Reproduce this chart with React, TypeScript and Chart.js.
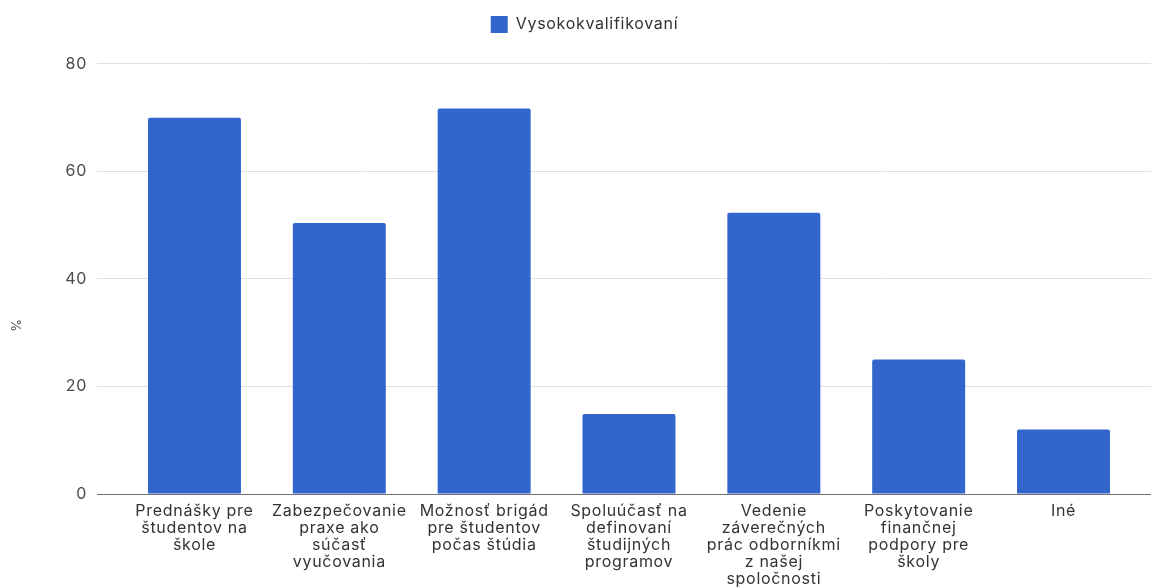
import React, { useEffect, useRef } from "react";
import { Chart, registerables } from "chart.js";

Chart.register(...registerables);

// Survey answers: share of respondents (%) choosing each form of cooperation
const categories: string[][] = [
  ["Prednášky pre", "študentov na", "škole"],
  ["Zabezpečovanie", "praxe ako", "súčasť", "vyučovania"],
  ["Možnosť brigád", "pre študentov", "počas štúdia"],
  ["Spoluúčasť na", "definovaní", "študijných", "programov"],
  ["Vedenie", "záverečných", "prác odborníkmi", "z našej", "spoločnosti"],
  ["Poskytovanie", "finančnej", "podpory pre", "školy"],
  ["Iné"],
];
const seriesName = "Vysokokvalifikovaní";
const values: number[] = [70, 50.4, 71.7, 14.9, 52.3, 25, 12];
const yTicks: number[] = [0, 20, 40, 60, 80];
const yTitle = "%";

const FONT = "Inter, 'Noto Sans', sans-serif";
const BAR_COLOR = "#3366cc";
const LETTER_SPACING = "0.7px";
// headroom above the top gridline so the plot starts below the legend
const Y_MAX = 83.9;
// trailing padding keeps the rotated axis title below the plot's middle
const Y_TITLE_TEXT = yTitle + " ".repeat(26);

// Slightly widened glyph spacing for every text drawn on the canvas
const spacingPlugin = {
  id: "letterSpacing",
  beforeUpdate(chart: any) {
    chart.ctx.letterSpacing = LETTER_SPACING;
  },
  beforeDraw(chart: any) {
    chart.ctx.letterSpacing = LETTER_SPACING;
  },
};

export default function App() {
  const ref = useRef<HTMLCanvasElement | null>(null);

  useEffect(() => {
    if (!ref.current) return;
    const points = values.map((v, i) => ({ x: i, y: v }));
    const chart = new Chart(ref.current, {
      type: "bar",
      data: {
        datasets: [
          {
            label: seriesName,
            data: points,
            backgroundColor: BAR_COLOR,
            borderRadius: 2,
            borderSkipped: "bottom",
            categoryPercentage: 1,
            barPercentage: 0.642,
          },
        ],
      },
      plugins: [spacingPlugin],
      options: {
        animation: false,
        responsive: false,
        devicePixelRatio: 1,
        layout: { padding: { top: -15, left: 18, right: 0, bottom: 0 } },
        plugins: {
          legend: {
            display: true,
            position: "top",
            labels: {
              boxWidth: 17,
              boxHeight: 17,
              padding: 31,
              color: "#333333",
              font: { family: FONT, size: 16 },
            },
          },
          tooltip: { enabled: false },
        },
        scales: {
          x: {
            type: "linear",
            offset: false,
            min: -0.673,
            max: 6.604,
            grid: { display: false, drawTicks: false },
            border: { display: true, color: "#6f6f6f", width: 1 },
            afterBuildTicks: (scale: any) => {
              scale.ticks = categories.map((_, i) => ({ value: i }));
            },
            afterFit: (scale: any) => {
              scale.height = 93;
            },
            ticks: {
              autoSkip: false,
              maxRotation: 0,
              minRotation: 0,
              padding: 9,
              color: "#333333",
              font: { family: FONT, size: 16, lineHeight: "17px" },
              callback: (value: any) => categories[Number(value)] ?? "",
            },
          },
          y: {
            min: 0,
            max: Y_MAX,
            afterBuildTicks: (scale: any) => {
              scale.ticks = yTicks.map((v) => ({ value: v }));
            },
            afterFit: (scale: any) => {
              scale.width = 79;
            },
            grid: {
              color: (ctx: any) => (ctx.tick && ctx.tick.value === 0 ? "#6f6f6f" : "#e0e0e0"),
              lineWidth: 1,
              drawTicks: false,
            },
            border: { display: false },
            ticks: {
              padding: 10,
              color: "#4a4a4a",
              font: { family: FONT, size: 16 },
            },
            title: {
              display: true,
              text: Y_TITLE_TEXT,
              color: "#555555",
              padding: { top: -9, bottom: 0 },
              font: { family: FONT, size: 13 },
            },
          },
        },
      },
    });
    return () => chart.destroy();
  }, []);

  return (
    <div style={{ position: "absolute", left: 0, top: 0, width: 1151, height: 587, background: "#ffffff" }}>
      <canvas ref={ref} width={1151} height={587} style={{ display: "block" }} />
    </div>
  );
}
